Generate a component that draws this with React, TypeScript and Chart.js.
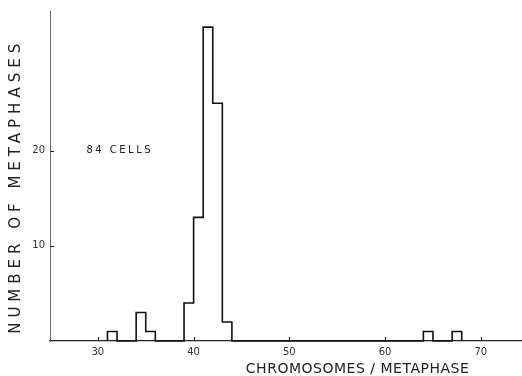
import React, { useEffect, useRef } from "react";
import { Chart, registerables } from "chart.js";

Chart.register(...registerables);

// Histogram bins: left edge of each 1-chromosome bin and its count
const binStarts = [31, 34, 35, 39, 40, 41, 42, 43, 64, 67];
const binCounts = [1, 3, 1, 4, 13, 33, 25, 2, 1, 1];
const xTickValues = [30, 40, 50, 60, 70];
const yTickValues = [10, 20];
const xTitle = "CHROMOSOMES / METAPHASE";
const yTitle = "NUMBER OF METAPHASES";
const noteText = "84 CELLS";
const noteAt = { x: 28.8, y: 20 };

const FONT = "'DejaVu Sans', 'Liberation Sans', sans-serif";

function buildSteps() {
  const pts: { x: number; y: number }[] = [];
  binStarts.forEach((s, i) => {
    const prevEnd = i > 0 ? binStarts[i - 1] + 1 : null;
    if (prevEnd !== s) pts.push({ x: s, y: 0 });
    pts.push({ x: s, y: binCounts[i] });
    const next = binStarts[i + 1];
    if (next !== s + 1) pts.push({ x: s + 1, y: 0 });
  });
  return pts;
}

function drawSpaced(
  ctx: CanvasRenderingContext2D,
  text: string,
  cx: number,
  cy: number,
  targetWidth: number,
  font: string,
  rotate: number
) {
  ctx.save();
  ctx.font = font;
  (ctx as any).letterSpacing = "0px";
  const w0 = ctx.measureText(text).width;
  const n = text.length;
  const ls = (targetWidth - w0) / (n - 1);
  (ctx as any).letterSpacing = ls + "px";
  ctx.translate(cx, cy);
  ctx.rotate(rotate);
  ctx.textAlign = "left";
  ctx.textBaseline = "middle";
  ctx.fillText(text, -targetWidth / 2, 0);
  ctx.restore();
}

const overlay = {
  id: "overlay",
  afterDraw(chart: any) {
    const { ctx, chartArea, scales } = chart;
    const x = scales.x;
    const y = scales.y;
    ctx.save();
    ctx.strokeStyle = "#222";
    ctx.lineWidth = 1.2;
    ctx.beginPath();
    xTickValues.forEach((v) => {
      const px = Math.round(x.getPixelForValue(v)) + 0.5;
      ctx.moveTo(px, chartArea.bottom);
      ctx.lineTo(px, chartArea.bottom - 4);
    });
    yTickValues.forEach((v) => {
      const py = Math.round(y.getPixelForValue(v)) + 0.5;
      ctx.moveTo(chartArea.left, py);
      ctx.lineTo(chartArea.left + 4, py);
    });
    ctx.stroke();

    ctx.fillStyle = "#222";
    // y title
    drawSpaced(ctx, yTitle, chartArea.left - 34, y.getPixelForValue(16), 290, `15px ${FONT}`, -Math.PI / 2);
    // x title
    drawSpaced(ctx, xTitle, x.getPixelForValue(57.1), chartArea.bottom + 28, 223, `14px ${FONT}`, 0);
    // annotation
    ctx.font = `10px ${FONT}`;
    (ctx as any).letterSpacing = "2.5px";
    ctx.textAlign = "left";
    ctx.textBaseline = "middle";
    ctx.fillText(noteText, x.getPixelForValue(noteAt.x), y.getPixelForValue(noteAt.y));
    ctx.restore();
  },
};

export default function App() {
  const ref = useRef<HTMLCanvasElement | null>(null);

  useEffect(() => {
    document.body.style.margin = "0";
    const canvas = ref.current;
    if (!canvas) return;
    const chart = new Chart(canvas, {
      type: "line",
      data: {
        datasets: [
          {
            data: buildSteps(),
            stepped: true,
            borderColor: "#111",
            borderWidth: 1.6,
            pointRadius: 0,
            fill: false,
            clip: false as any,
          },
        ],
      },
      options: {
        responsive: false,
        animation: false,
        events: [],
        layout: { padding: { top: 9, right: 0, left: 0, bottom: 0 } },
        plugins: { legend: { display: false }, tooltip: { enabled: false }, title: { display: false } },
        scales: {
          x: {
            type: "linear",
            min: 25,
            max: 74.3,
            grid: { display: false, drawTicks: false },
            border: { display: true, color: "#222", width: 1.3 },
            afterBuildTicks: (s: any) => {
              s.ticks = xTickValues.map((v) => ({ value: v }));
            },
            afterFit: (s: any) => {
              s.height = 35;
            },
            ticks: {
              autoSkip: false,
              maxRotation: 0,
              padding: 5,
              color: "#333",
              font: { family: FONT, size: 10 },
              callback: (v: any) => String(v),
            },
          },
          y: {
            type: "linear",
            min: 0,
            max: 34.7,
            grid: { display: false, drawTicks: false },
            border: { display: true, color: "#666", width: 1 },
            afterBuildTicks: (s: any) => {
              s.ticks = yTickValues.map((v) => ({ value: v }));
            },
            afterFit: (s: any) => {
              s.width = 50;
            },
            ticks: {
              autoSkip: false,
              padding: 5,
              color: "#333",
              font: { family: FONT, size: 10 },
              callback: (v: any) => String(v),
            },
          },
        },
      },
      plugins: [overlay],
    });
    return () => chart.destroy();
  }, []);

  return (
    <div style={{ width: 522, height: 376, background: "#fff" }}>
      <canvas ref={ref} width={522} height={376} style={{ display: "block" }} />
    </div>
  );
}
